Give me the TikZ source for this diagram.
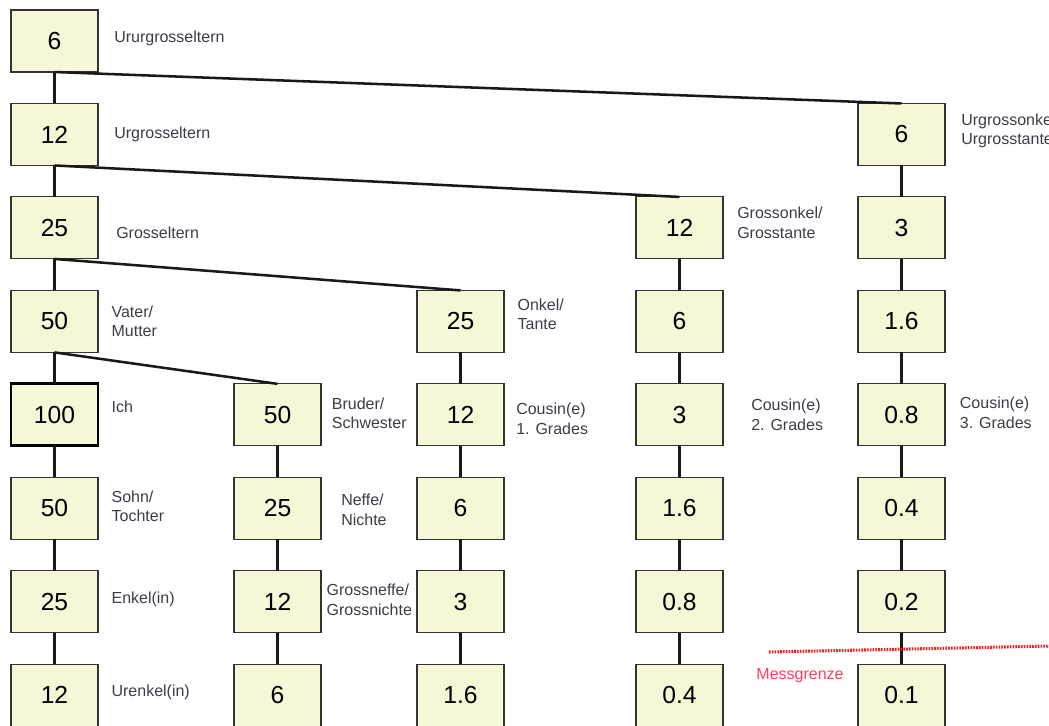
\documentclass[tikz,border=0pt]{standalone}
\usepackage{fontspec}
\setmainfont{Liberation Sans}
\usepackage{tikz}
\usetikzlibrary{positioning}
\definecolor{BoxFill}{HTML}{F6F7D7}
\definecolor{BoxLine}{HTML}{333333}
\definecolor{LabelGray}{HTML}{3C3C46}
\definecolor{LimitRed}{HTML}{FF1A1A}
\definecolor{LimitText}{HTML}{FF4060}

\begin{document}
\begin{tikzpicture}[
            x=0.75pt, y=-0.75pt,
            node distance=23.6pt and 10pt,
            box/.style={draw=BoxLine, line width=0.8pt, fill=BoxFill, minimum width=65.25pt, minimum height=46.5pt, inner sep=0pt, outer sep=0pt, font=\fontsize{18.5}{20}\selectfont},
            me/.style={box, draw=black, line width=2.2pt},
            desc/.style={text=LabelGray, align=left, inner sep=0pt, font=\fontsize{12}{14.5}\selectfont},
            link/.style={line width=1.9pt, draw=black!90},
            limit/.style={draw=LimitRed, line width=2.3pt, dash pattern=on 1.2pt off 0.9pt}
        ]
            \useasboundingbox (0,0) rectangle (1049,725);

            % direkte Linie
            \node[box] (ururgr) at (54.5,41) {6};
            \node[desc, right=12pt of ururgr, yshift=2pt] (l-ururgr) {Ururgrosseltern};

            \node[box, below=of ururgr] (urgr) {12};
            \node[desc, right=12pt of urgr] (l-urgr) {Urgrosseltern};

            \node[box, below=of urgr] (grel) {25};
            \node[desc, right=13.5pt of grel, yshift=-3.5pt] (l-grel) {Grosseltern};

            \node[box, below=of grel] (eltern) {50};
            \node[desc, right=10pt of eltern] (l-eltern) {Vater/\\Mutter};

            \node[me, below=of eltern] (ich) {100};
            \node[desc, right=10pt of ich, yshift=6pt] (l-ich) {Ich};

            \node[box, below=of ich] (kind) {50};
            \node[desc, right=10pt of kind, yshift=1.5pt] (l-kind) {Sohn/\\Tochter};

            \node[box, below=of kind] (enkel) {25};
            \node[desc, right=10pt of enkel, yshift=2pt] (l-enkel) {Enkel(in)};

            \node[box, below=of enkel] (urenkel) {12};
            \node[desc, right=10pt of urenkel, yshift=2pt] (l-urenkel) {Urenkel(in)};

            % Geschwister
            \node[box, right=102pt of ich] (geschw) {50};
            \node[desc, right=8pt of geschw, yshift=1pt] (l-geschw) {Bruder/\\Schwester};

            \node[box, below=of geschw] (neffe) {25};
            \node[desc, right=15pt of neffe, yshift=-1pt] (l-neffe) {Neffe/\\Nichte};

            \node[box, below=of neffe] (grneffe) {12};
            \node[desc, right=4pt of grneffe, yshift=1.5pt] (l-grneffe) {Grossneffe/\\Grossnichte};

            \node[box, below=of grneffe] (urneffe) {6};

            % Onkel und Cousins 1. Grades
            \node[box, right=239.25pt of eltern] (onkel) {25};
            \node[desc, right=10pt of onkel, yshift=5.5pt] (l-onkel) {Onkel/\\Tante};

            \node[box, below=of onkel] (cous1) {12};
            \node[desc, right=9pt of cous1, yshift=-3pt] (l-cous1) {Cousin(e)\\1. Grades};

            \node[box, below=of cous1] (cous1a) {6};
            \node[box, below=of cous1a] (cous1b) {3};
            \node[box, below=of cous1b] (cous1c) {1.6};

            % Grossonkel und Cousins 2. Grades
            \node[box, right=403.5pt of grel] (gronkel) {12};
            \node[desc, right=10.5pt of gronkel, yshift=3.75pt] (l-gronkel) {Grossonkel/\\Grosstante};

            \node[box, below=of gronkel] (gronkela) {6};
            \node[box, below=of gronkela] (cous2) {3};
            \node[desc, right=21pt of cous2] (l-cous2) {Cousin(e)\\2. Grades};

            \node[box, below=of cous2] (cous2a) {1.6};
            \node[box, below=of cous2a] (cous2b) {0.8};
            \node[box, below=of cous2b] (cous2c) {0.4};

            % Urgrossonkel und Cousins 3. Grades
            \node[box, right=570pt of urgr] (urgronkel) {6};
            \node[desc, right=12pt of urgronkel, yshift=2.6pt] (l-urgronkel) {Urgrossonkel/\\Urgrosstante};

            \node[box, below=of urgronkel] (urgronkela) {3};
            \node[box, below=of urgronkela] (urgronkelb) {1.6};
            \node[box, below=of urgronkelb] (cous3) {0.8};
            \node[desc, right=11pt of cous3, yshift=1.5pt] (l-cous3) {Cousin(e)\\3. Grades};

            \node[box, below=of cous3] (cous3a) {0.4};
            \node[box, below=of cous3a] (cous3b) {0.2};
            \node[box, below=of cous3b] (cous3c) {0.1};

            % Verbindungen
            \draw[link] (ururgr.south) -- (urgr.north) (urgr.south) -- (grel.north)
                (grel.south) -- (eltern.north) (eltern.south) -- (ich.north)
                (ich.south) -- (kind.north) (kind.south) -- (enkel.north)
                (enkel.south) -- (urenkel.north);
            \draw[link] (geschw.south) -- (neffe.north) (neffe.south) -- (grneffe.north)
                (grneffe.south) -- (urneffe.north);
            \draw[link] (onkel.south) -- (cous1.north) (cous1.south) -- (cous1a.north)
                (cous1a.south) -- (cous1b.north) (cous1b.south) -- (cous1c.north);
            \draw[link] (gronkel.south) -- (gronkela.north) (gronkela.south) -- (cous2.north)
                (cous2.south) -- (cous2a.north) (cous2a.south) -- (cous2b.north)
                (cous2b.south) -- (cous2c.north);
            \draw[link] (urgronkel.south) -- (urgronkela.north) (urgronkela.south) -- (urgronkelb.north)
                (urgronkelb.south) -- (cous3.north) (cous3.south) -- (cous3a.north)
                (cous3a.south) -- (cous3b.north) (cous3b.south) -- (cous3c.north);

            \draw[link] (ururgr.south) -- (urgronkel.north);
            \draw[link] (urgr.south) -- (gronkel.north);
            \draw[link] (grel.south) -- (onkel.north);
            \draw[link] (eltern.south) -- (geschw.north);

            % Messgrenze
            \coordinate (mg-a) at (769,652);
            \coordinate (mg-b) at (1049,646);
            \draw[limit] (mg-a) -- (mg-b);
            \node[desc, text=LimitText] (l-mg) at (800,676) {Messgrenze};

        \end{tikzpicture}
\end{document}
